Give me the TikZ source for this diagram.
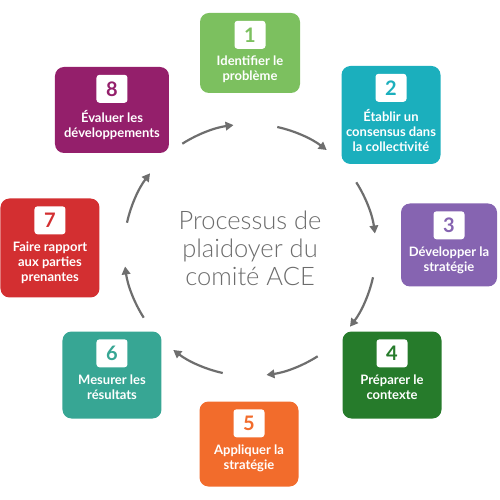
\documentclass[tikz,border=0pt]{standalone}
\usepackage{fontspec}
\setmainfont{Lato}
\newfontfamily\titlefont{Lato Light}
\usetikzlibrary{arrows.meta,positioning}

\definecolor{stepgreen}{HTML}{7CC05F}
\definecolor{stepteal}{HTML}{1BAFBD}
\definecolor{steppurple}{HTML}{8664B1}
\definecolor{stepforest}{HTML}{267B2B}
\definecolor{steporange}{HTML}{F26C2C}
\definecolor{stepjade}{HTML}{37A694}
\definecolor{stepred}{HTML}{D32F31}
\definecolor{stepplum}{HTML}{941F6B}
\definecolor{titlegray}{HTML}{6C6C6C}
\definecolor{arrowgray}{HTML}{6E6E6E}

\begin{document}
\begin{tikzpicture}[x=1pt,y=1pt,
        box/.style={rectangle,rounded corners=9pt,minimum width=99pt,inner sep=0pt},
        num/.style={rectangle,fill=white,rounded corners=3pt,minimum width=31pt,minimum height=28pt,inner sep=0pt,font=\fontsize{20}{20}\selectfont\bfseries},
        txt/.style={text=white,align=center,inner sep=0pt,font=\fontsize{13}{15}\selectfont\bfseries},
        title/.style={text=titlegray,align=center,inner sep=0pt,font=\titlefont\fontsize{25.5}{28}\selectfont},
        flow/.style={line width=2.2pt,draw=arrowgray,-{Triangle[length=8pt,width=8.5pt]}}
    ]
        \useasboundingbox (-250,-250) rectangle (250,250);

        % Define the steps
        \node[box,fill=stepgreen,minimum width=100pt,minimum height=80pt] (b1) at (0,197) {};
        \node[num,text=stepgreen] (n1) at ([yshift=-22pt]b1.north) {1};
        \node[txt,below=7pt of n1] (t1) {Identifier le\\problème};

        \node[box,fill=stepteal,minimum height=98pt] (b2) at (141,135) {};
        \node[num,text=stepteal] (n2) at ([yshift=-22pt]b2.north) {2};
        \node[txt,below=7pt of n2] (t2) {Établir un\\consensus dans\\la collectivité};

        \node[box,fill=steppurple,minimum width=96pt,minimum height=83pt] (b3) at (199,5) {};
        \node[num,text=steppurple] (n3) at ([yshift=-22pt]b3.north) {3};
        \node[txt,below=7pt of n3] (t3) {Développer la\\stratégie};

        \node[box,fill=stepforest,minimum height=87pt] (b4) at (142,-125) {};
        \node[num,text=stepforest] (n4) at ([yshift=-22pt]b4.north) {4};
        \node[txt,below=7pt of n4] (t4) {Préparer le\\contexte};

        \node[box,fill=steporange,minimum height=85pt] (b5) at (-1,-194) {};
        \node[num,text=steporange] (n5) at ([yshift=-22pt]b5.north) {5};
        \node[txt,below=7pt of n5] (t5) {Appliquer la\\stratégie};

        \node[box,fill=stepjade,minimum height=87pt] (b6) at (-138,-125) {};
        \node[num,text=stepjade] (n6) at ([yshift=-22pt]b6.north) {6};
        \node[txt,below=7pt of n6] (t6) {Mesurer les\\résultats};

        \node[box,fill=stepred,minimum height=99pt] (b7) at (-200,2) {};
        \node[num,text=stepred] (n7) at ([yshift=-22pt]b7.north) {7};
        \node[txt,below=7pt of n7] (t7) {Faire rapport\\aux parties\\prenantes};

        \node[box,fill=stepplum,minimum width=114pt,minimum height=86pt] (b8) at (-138,140) {};
        \node[num,text=stepplum] (n8) at ([yshift=-22pt]b8.north) {8};
        \node[txt,below=7pt of n8] (t8) {Évaluer les\\développements};

        % Title in the middle
        \node[title] (title) at (0,2) {Processus de\\plaidoyer du\\comité ACE};

        % Arrows round the circle
        \foreach \i in {1,...,8}{
            \pgfmathsetmacro{\st}{77.5-45*(\i-1)}
            \coordinate (a\i) at (\st:126);
            \draw[flow] (a\i) arc[start angle=\st, end angle=\st-25, radius=126];
        }
    \end{tikzpicture}
\end{document}
